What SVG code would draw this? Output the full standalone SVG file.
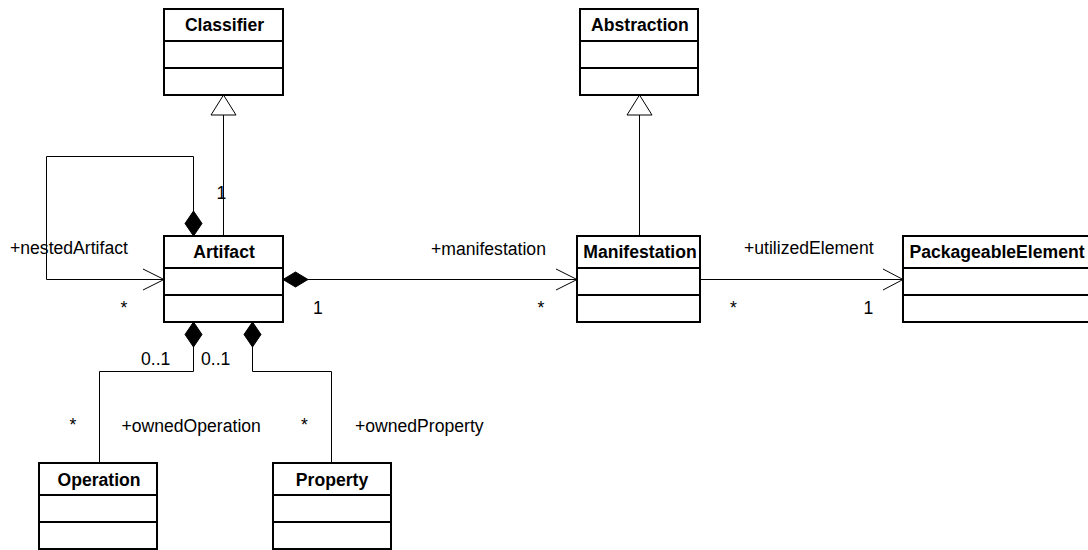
<svg xmlns="http://www.w3.org/2000/svg" width="1088" height="550" viewBox="0 0 1088 550">
  <style>
    .box { fill: #ffffff; stroke: #000000; stroke-width: 2; }
    .div { stroke: #000000; stroke-width: 2; }
    .name { font-family: "Liberation Sans", Arial, sans-serif; font-size: 17.6px; font-weight: bold; fill: #000000; text-anchor: middle; }
    .lbl { font-family: "Liberation Sans", Arial, sans-serif; font-size: 17.6px; fill: #000000; }
    .edge { fill: none; stroke: #000000; stroke-width: 1; }
    .diamond { fill: #000000; stroke: #000000; stroke-width: 1; }
    .tri { fill: #ffffff; stroke: #000000; stroke-width: 1; }
  </style>

  <!-- connectors -->
  <g id="connectors">
    <!-- Artifact generalizes Classifier -->
    <line class="edge" x1="223.5" y1="115" x2="223.5" y2="236"/>
    <polygon class="tri" points="223.5,95 211,115 236,115"/>
    <text class="lbl" x="216.5" y="198.5">1</text>

    <!-- Manifestation generalizes Abstraction -->
    <line class="edge" x1="639.5" y1="115" x2="639.5" y2="236"/>
    <polygon class="tri" points="639.5,95 627,115 652,115"/>

    <!-- nestedArtifact self association -->
    <polyline class="edge" points="193.5,211 193.5,156.5 46.5,156.5 46.5,279.5 164,279.5"/>
    <polyline class="edge" points="143,269 164,279.5 143,290"/>
    <polygon class="diamond" points="193.5,211 202,223.5 193.5,236 185,223.5"/>
    <text class="lbl" x="10" y="254">+nestedArtifact</text>
    <text class="lbl" x="120.5" y="314">*</text>

    <!-- manifestation -->
    <line class="edge" x1="308" y1="279.5" x2="577" y2="279.5"/>
    <polyline class="edge" points="556,269 577,279.5 556,290"/>
    <polygon class="diamond" points="283,279.5 295.5,272 308,279.5 295.5,287"/>
    <text class="lbl" x="431" y="255">+manifestation</text>
    <text class="lbl" x="313" y="314">1</text>
    <text class="lbl" x="537.5" y="314">*</text>

    <!-- utilizedElement -->
    <line class="edge" x1="700" y1="279.5" x2="903" y2="279.5"/>
    <polyline class="edge" points="883,269 903,279.5 883,290"/>
    <text class="lbl" x="744" y="254">+utilizedElement</text>
    <text class="lbl" x="730" y="314">*</text>
    <text class="lbl" x="863.5" y="314">1</text>

    <!-- ownedOperation -->
    <polyline class="edge" points="193.5,347 193.5,371.5 99.5,371.5 99.5,463"/>
    <polygon class="diamond" points="193.5,322 202,334.5 193.5,347 185,334.5"/>
    <text class="lbl" x="141" y="365">0..1</text>
    <text class="lbl" x="69.5" y="431">*</text>
    <text class="lbl" x="121.5" y="431.5">+ownedOperation</text>

    <!-- ownedProperty -->
    <polyline class="edge" points="252.5,347 252.5,371.5 331.5,371.5 331.5,463"/>
    <polygon class="diamond" points="252.5,322 261,334.5 252.5,347 244,334.5"/>
    <text class="lbl" x="201" y="365">0..1</text>
    <text class="lbl" x="301" y="431">*</text>
    <text class="lbl" x="355" y="431.5">+ownedProperty</text>
  </g>

  <!-- classes -->
  <g id="Classifier">
    <rect class="box" x="164" y="9" width="119" height="86"/>
    <line class="div" x1="164" y1="41" x2="283" y2="41"/>
    <line class="div" x1="164" y1="68" x2="283" y2="68"/>
    <text class="name" x="224.5" y="31">Classifier</text>
  </g>

  <g id="Abstraction">
    <rect class="box" x="580" y="9" width="118" height="86"/>
    <line class="div" x1="580" y1="41" x2="698" y2="41"/>
    <line class="div" x1="580" y1="68" x2="698" y2="68"/>
    <text class="name" x="640" y="31">Abstraction</text>
  </g>

  <g id="Artifact">
    <rect class="box" x="164" y="236" width="119" height="86"/>
    <line class="div" x1="164" y1="268" x2="283" y2="268"/>
    <line class="div" x1="164" y1="295" x2="283" y2="295"/>
    <text class="name" x="224" y="258">Artifact</text>
  </g>

  <g id="Manifestation">
    <rect class="box" x="577" y="236" width="123" height="86"/>
    <line class="div" x1="577" y1="268" x2="700" y2="268"/>
    <line class="div" x1="577" y1="295" x2="700" y2="295"/>
    <text class="name" x="640" y="258">Manifestation</text>
  </g>

  <g id="PackageableElement">
    <rect class="box" x="903" y="236" width="188" height="86"/>
    <line class="div" x1="903" y1="268" x2="1091" y2="268"/>
    <line class="div" x1="903" y1="295" x2="1091" y2="295"/>
    <text class="name" x="997" y="258">PackageableElement</text>
  </g>

  <g id="Operation">
    <rect class="box" x="39" y="463" width="118" height="86"/>
    <line class="div" x1="39" y1="495" x2="157" y2="495"/>
    <line class="div" x1="39" y1="522" x2="157" y2="522"/>
    <text class="name" x="99" y="485.5">Operation</text>
  </g>

  <g id="Property">
    <rect class="box" x="273" y="463" width="118" height="86"/>
    <line class="div" x1="273" y1="495" x2="391" y2="495"/>
    <line class="div" x1="273" y1="522" x2="391" y2="522"/>
    <text class="name" x="332" y="485.5">Property</text>
  </g>
</svg>
